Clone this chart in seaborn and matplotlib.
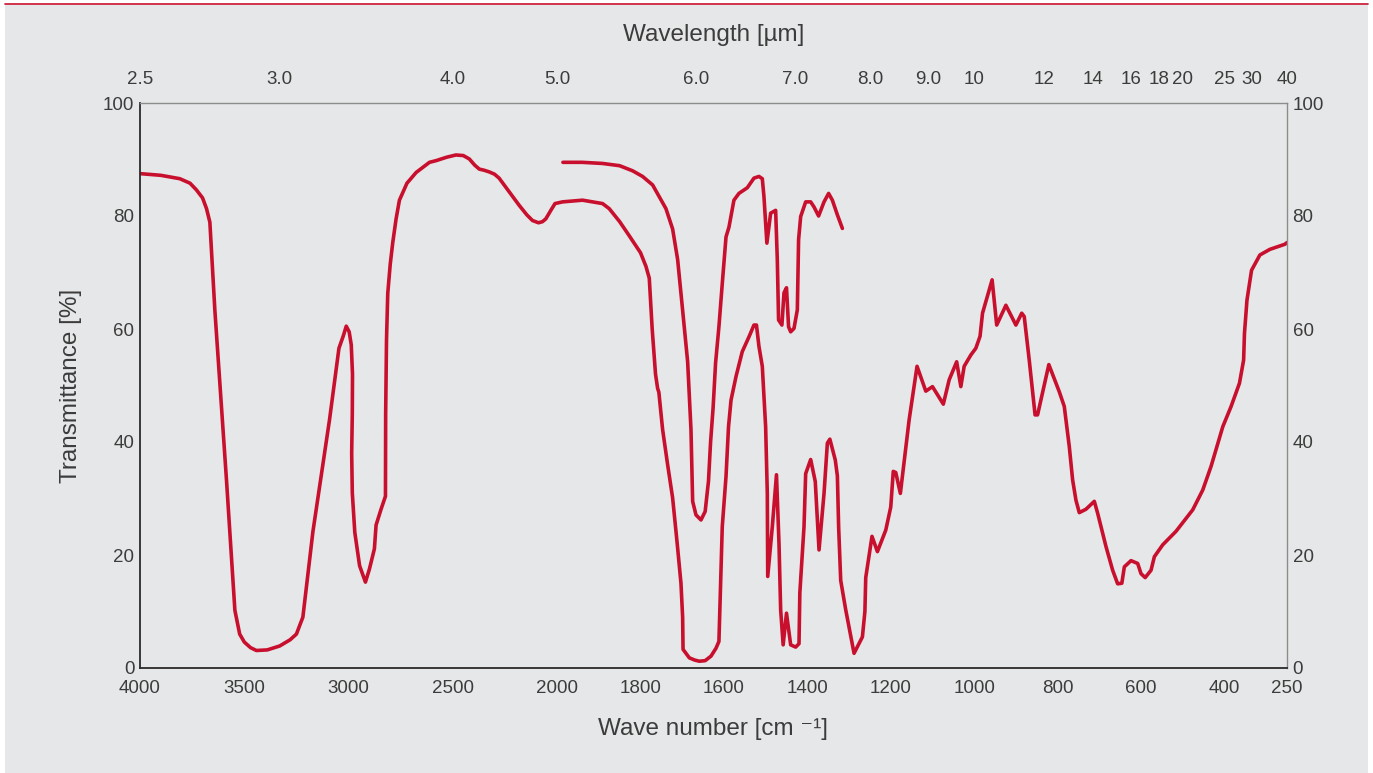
import numpy as np
import pandas as pd
import matplotlib
matplotlib.use("Agg")
import matplotlib.pyplot as plt
import seaborn as sns
from matplotlib.patches import Rectangle
from matplotlib.lines import Line2D

# ---------------- data ----------------
main_wn = [4000, 3900, 3809, 3760, 3729, 3700, 3681, 3665, 3641, 3585, 3545, 3522,
           3500, 3470, 3442, 3390, 3330, 3280, 3250, 3219, 3171, 3091, 3046, 3025,
           3011, 2997, 2987, 2981, 2982, 2985, 2982, 2970, 2947, 2919, 2900, 2876,
           2868, 2845, 2823, 2822, 2818, 2812, 2800, 2788, 2772, 2756, 2720, 2676,
           2612, 2580, 2530, 2485, 2450, 2421, 2395, 2373, 2350, 2325, 2300, 2278,
           2230, 2182, 2145, 2118, 2089, 2070, 2054, 2030, 2010, 1987, 1939, 1891,
           1875, 1850, 1827, 1800, 1787, 1779, 1772, 1764, 1759, 1756, 1747, 1735,
           1723, 1712, 1703, 1699, 1698, 1690, 1683, 1670, 1659, 1645, 1631, 1619,
           1612, 1604, 1595, 1589, 1583, 1571, 1556, 1540, 1528, 1522, 1516, 1508,
           1500, 1496, 1495, 1484, 1474, 1468, 1464, 1458, 1450, 1440, 1428, 1420,
           1418, 1408, 1404, 1392, 1381, 1372, 1360, 1352, 1346, 1333, 1328, 1325,
           1320, 1308, 1288, 1268, 1262, 1260, 1245, 1232, 1212, 1200, 1194, 1188,
           1177, 1156, 1137, 1116, 1100, 1074, 1060, 1042, 1032, 1024, 1008, 996,
           986, 980, 957, 946, 924, 900, 886, 880, 868, 854, 848, 821, 796, 784,
           780, 772, 764, 756, 748, 732, 712, 704, 684, 668, 656, 646, 640, 624,
           608, 600, 590, 576, 568, 548, 516, 476, 452, 432, 404, 384, 364, 354,
           352, 346, 335, 315, 291, 255, 250]
main_t = [87.5, 87.2, 86.6, 85.8, 84.6, 83.2, 81.3, 78.9, 63.3, 33.1, 10.2, 6.0,
          4.6, 3.6, 3.1, 3.2, 3.9, 5.0, 6.0, 9.0, 24.1, 44.0, 56.6, 58.8,
          60.5, 59.5, 57.2, 52.0, 45.0, 38.0, 31.0, 24.0, 18.1, 15.2, 17.5, 21.1,
          25.3, 28.0, 30.4, 45.0, 58.0, 66.3, 71.5, 75.3, 79.5, 82.8, 85.8, 87.7,
          89.5, 89.8, 90.4, 90.8, 90.7, 90.1, 89.0, 88.3, 88.1, 87.8, 87.4, 86.7,
          84.3, 81.9, 80.2, 79.2, 78.8, 79.0, 79.5, 81.0, 82.2, 82.5, 82.8, 82.2,
          81.3, 79.0, 76.5, 73.5, 71.1, 69.0, 60.0, 52.0, 49.5, 48.8, 42.2, 36.0,
          30.1, 22.0, 15.0, 9.0, 3.3, 2.5, 1.8, 1.4, 1.2, 1.3, 2.1, 3.5,
          4.7, 25.0, 33.9, 42.7, 47.4, 51.6, 56.0, 58.6, 60.7, 60.7, 56.9, 53.4,
          42.7, 30.9, 16.2, 25.0, 34.2, 22.1, 10.3, 4.1, 9.7, 4.1, 3.7, 4.3,
          13.3, 25.0, 34.4, 36.9, 33.0, 20.9, 30.9, 39.8, 40.5, 36.8, 34.0, 25.0,
          15.5, 10.3, 2.6, 5.5, 10.0, 16.0, 23.3, 20.6, 24.4, 28.5, 34.8, 34.6,
          30.9, 43.9, 53.4, 49.0, 49.8, 46.7, 51.0, 54.2, 49.8, 53.4, 55.4, 56.6,
          58.7, 62.8, 68.7, 60.7, 64.2, 60.7, 62.8, 62.2, 54.5, 44.8, 44.8, 53.7,
          48.9, 46.3, 43.9, 39.2, 33.3, 29.7, 27.5, 28.1, 29.5, 27.4, 21.5, 17.3,
          14.9, 15.0, 17.9, 19.0, 18.5, 16.7, 16.0, 17.3, 19.7, 21.8, 24.2, 28.0,
          31.5, 35.7, 42.7, 46.3, 50.4, 54.5, 59.2, 65.1, 70.4, 73.1, 74.1, 75.0,
          75.3]

thin_wn = [1986, 1940, 1891, 1850, 1819, 1795, 1771, 1739, 1723, 1711, 1699, 1687,
           1679, 1675, 1667, 1655, 1645, 1637, 1632, 1626, 1620, 1612, 1604, 1595,
           1588, 1576, 1564, 1544, 1528, 1516, 1508, 1504, 1497, 1488, 1476, 1472,
           1469, 1461, 1456, 1450, 1445, 1440, 1432, 1424, 1421, 1416, 1404, 1392,
           1384, 1373, 1360, 1349, 1340, 1328, 1316]
thin_t = [89.5, 89.5, 89.3, 88.9, 88.0, 87.0, 85.5, 81.3, 77.7, 72.3, 63.3, 54.2,
          42.2, 29.5, 27.1, 26.2, 27.7, 33.1, 40.0, 46.0, 54.0, 60.4, 68.0, 76.3,
          78.0, 82.8, 84.0, 85.0, 86.7, 87.0, 86.6, 83.4, 75.2, 80.5, 81.0, 72.2,
          61.6, 60.7, 66.4, 67.3, 60.4, 59.5, 60.1, 63.4, 75.8, 79.9, 82.5, 82.5,
          81.6, 80.0, 82.5, 84.0, 82.8, 80.2, 77.8]

wn_ticks = [4000, 3500, 3000, 2500, 2000, 1800, 1600, 1400, 1200, 1000, 800, 600, 400, 250]
um_ticks = [2.5, 3.0, 4.0, 5.0, 6.0, 7.0, 8.0, 9.0, 10, 12, 14, 16, 18, 20, 25, 30, 40]
um_labels = ["2.5", "3.0", "4.0", "5.0", "6.0", "7.0", "8.0", "9.0", "10", "12", "14",
             "16", "18", "20", "25", "30", "40"]
t_ticks = [0, 20, 40, 60, 80, 100]

# ---------------- style ----------------
RED = "#c8102e"
BG = "#e6e7e8"
TXT = "#3c3c3c"

sns.set_style("white")
plt.rcParams['font.family'] = ['Liberation Sans', 'DejaVu Sans']


# IR charts change scale at 2000 cm-1 (upper half compressed 2:1)
# increasing function, the axis is inverted with set_xlim(4000, 250)
def fwd(w):
    w = np.asarray(w, dtype=float)
    return -np.where(w >= 2000, (4000 - w) / 2.0, 1000 + (2000 - w))


def inv(u):
    u = -np.asarray(u, dtype=float)
    return np.where(u <= 1000, 4000 - 2 * u, 3000 - u)


fig = plt.figure(figsize=(13.73, 7.73), dpi=100)
fig.patch.set_facecolor("white")
fig.add_artist(Rectangle((5 / 1373, 0), 1363 / 1373, 1 - 5 / 773,
                         transform=fig.transFigure, facecolor=BG, edgecolor="none", zorder=-10))
fig.add_artist(Line2D([5 / 1373, 1368 / 1373], [1 - 4 / 773, 1 - 4 / 773],
                      transform=fig.transFigure, color=RED, linewidth=1.2))

ax = fig.add_axes([140 / 1373, 1 - 668 / 773, (1287 - 140) / 1373, (668 - 103) / 773])
ax.set_facecolor(BG)
ax.set_xscale("function", functions=(fwd, inv))

df_main = pd.DataFrame({"wn": main_wn, "T": main_t})
df_thin = pd.DataFrame({"wn": thin_wn, "T": thin_t})
sns.lineplot(data=df_main, x="wn", y="T", ax=ax, sort=False, estimator=None,
             color=RED, linewidth=2.6)
sns.lineplot(data=df_thin, x="wn", y="T", ax=ax, sort=False, estimator=None,
             color=RED, linewidth=2.6)

ax.set_xlim(4000, 250)
ax.set_ylim(0, 100)
ax.set_xticks(wn_ticks)
ax.set_xticklabels([str(v) for v in wn_ticks])
ax.set_yticks(t_ticks)
ax.set_yticklabels([str(v) for v in t_ticks])
ax.tick_params(axis="x", length=0, pad=8.5, labelsize=13.5, labelcolor=TXT)
ax.tick_params(axis="y", length=0, pad=4, labelsize=13.5, labelcolor=TXT,
               labelleft=True, labelright=True)
ax.set_xlabel("Wave number [cm ⁻¹]", fontsize=17.5, color=TXT, labelpad=15)
ax.set_ylabel("Transmittance [%]", fontsize=17.5, color=TXT, labelpad=15)

for s in ["left", "bottom"]:
    ax.spines[s].set_color("#2a2a2a")
    ax.spines[s].set_linewidth(1.3)
for s in ["top", "right"]:
    ax.spines[s].set_color("#8c8c8c")
    ax.spines[s].set_linewidth(1.0)

# wavelength axis on top
ax2 = ax.twiny()
ax2.set_xscale("function", functions=(fwd, inv))
ax2.set_xlim(4000, 250)
ax2.set_xticks([10000.0 / u for u in um_ticks])
ax2.set_xticklabels(um_labels)
ax2.tick_params(axis="x", length=0, pad=10.5, labelsize=13.5, labelcolor=TXT)
ax2.set_xlabel("Wavelength [µm]", fontsize=17.5, color=TXT, labelpad=22)
for s in ax2.spines.values():
    s.set_visible(False)

fig.savefig("out.png", dpi=100, facecolor=fig.get_facecolor())
